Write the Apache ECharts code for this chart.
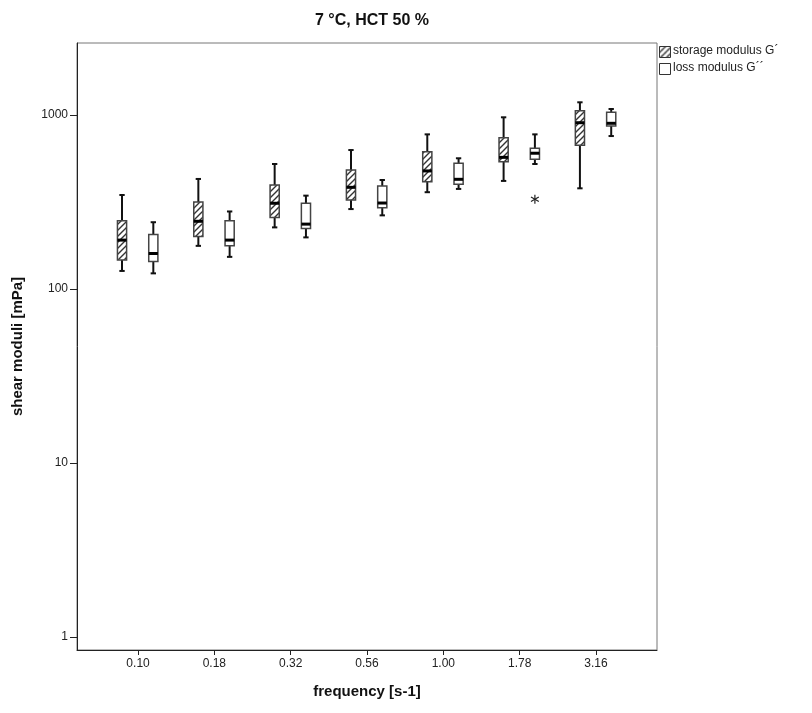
<!DOCTYPE html>
<html><head><meta charset="utf-8">
<script src="https://cdn.jsdelivr.net/npm/echarts@6/dist/echarts.min.js"></script>
<style>html,body{margin:0;padding:0;background:#fff}#c{width:812px;height:713px}</style>
</head><body><div id="c"></div>
<script>
var categories = ['0.10','0.18','0.32','0.56','1.00','1.78','3.16'];
// [min, Q1, median, Q3, max]
var storage = [
  [127,147,191,247,347],
  [177,200,245,316,429],
  [226,258,311,396,523],
  [288,325,384,483,629],
  [360,414,477,615,774],
  [418,539,571,740,970],
  [379,670,903,1058,1183]
];
var loss = [
  [123,144,160,206,242],
  [153,177,191,247,279],
  [198,223,236,311,344],
  [265,293,312,391,423],
  [376,400,427,528,564],
  [523,556,603,644,774],
  [757,865,896,1036,1083]
];
var lossOutliers = [[5, 328]];
var yTicks = [1, 10, 100, 1000];

function hatch() {
  var c = document.createElement('canvas');
  c.width = 6; c.height = 6;
  var g = c.getContext('2d');
  g.fillStyle = '#fff'; g.fillRect(0,0,6,6);
  g.strokeStyle = '#333'; g.lineWidth = 1.4;
  g.beginPath();
  g.moveTo(-1,7); g.lineTo(7,-1);
  g.moveTo(-4,4); g.lineTo(4,-4);
  g.moveTo(2,10); g.lineTo(10,2);
  g.stroke();
  return c;
}
var hatchFill = {image: hatch(), repeat: 'repeat'};

function boxRender(offset, fill) {
  return function (params, api) {
    var x = api.value(0) + offset;
    var pMin = api.coord([x, api.value(1)]);
    var pQ1 = api.coord([x, api.value(2)]);
    var pMed = api.coord([x, api.value(3)]);
    var pQ3 = api.coord([x, api.value(4)]);
    var pMax = api.coord([x, api.value(5)]);
    var unit = api.size([1, 0])[0];
    var hw = unit * 0.06, cw = unit * 0.035, cx = pMin[0];
    return {
      type: 'group',
      children: [
        {type: 'line', shape: {x1: cx, y1: pMax[1], x2: cx, y2: pMin[1]}, style: {stroke: '#111', lineWidth: 2}},
        {type: 'line', shape: {x1: cx - cw, y1: pMax[1], x2: cx + cw, y2: pMax[1]}, style: {stroke: '#111', lineWidth: 2}},
        {type: 'line', shape: {x1: cx - cw, y1: pMin[1], x2: cx + cw, y2: pMin[1]}, style: {stroke: '#111', lineWidth: 2}},
        {type: 'rect', shape: {x: cx - hw, y: pQ3[1], width: hw * 2, height: pQ1[1] - pQ3[1]},
          style: {fill: fill, stroke: '#444', lineWidth: 1.5}},
        {type: 'line', shape: {x1: cx - hw, y1: pMed[1], x2: cx + hw, y2: pMed[1]}, style: {stroke: '#000', lineWidth: 3}}
      ]
    };
  };
}
function starRender(offset) {
  return function (params, api) {
    var p = api.coord([api.value(0) + offset, api.value(1)]);
    var r = 4.5, ch = [];
    for (var i = 0; i < 3; i++) {
      var a = Math.PI / 2 + i * Math.PI / 3;
      ch.push({type: 'line', shape: {x1: p[0] - r * Math.cos(a), y1: p[1] - r * Math.sin(a), x2: p[0] + r * Math.cos(a), y2: p[1] + r * Math.sin(a)}, style: {stroke: '#222', lineWidth: 1.2}});
    }
    return {type: 'group', children: ch};
  };
}
function build(arr) { return arr.map(function (d, i) { return [i].concat(d); }); }

var chart = echarts.init(document.getElementById('c'));
var font = 'Liberation Sans, Arial, sans-serif';
chart.setOption({
  backgroundColor: '#fff',
  animation: false,
  title: {text: '7 °C, HCT 50 %', left: 367, top: 8, textAlign: 'center',
    textStyle: {fontFamily: font, fontSize: 16, fontWeight: 'bold', color: '#111'}},
  grid: {left: 77, right: 155, top: 43, bottom: 63, show: true, borderColor: '#777', borderWidth: 1, backgroundColor: '#fff'},
  xAxis: {
    type: 'value', min: -0.8, max: 6.8,
    name: 'frequency [s-1]', nameLocation: 'middle', nameGap: 34,
    nameTextStyle: {fontFamily: font, fontSize: 15, fontWeight: 'bold', color: '#111'},
    axisLine: {show: true, onZero: false, lineStyle: {color: '#222', width: 1}},
    axisTick: {show: true, length: 5, customValues: [0,1,2,3,4,5,6], lineStyle: {color: '#222'}},
    axisLabel: {customValues: [0,1,2,3,4,5,6], fontFamily: font, fontSize: 12, color: '#222', margin: 8,
      formatter: function (v) { return categories[Math.round(v)]; }},
    splitLine: {show: false}
  },
  yAxis: {
    type: 'log', logBase: 10, min: 0.842, max: 2593,
    name: 'shear moduli [mPa]', nameLocation: 'middle', nameGap: 52,
    nameTextStyle: {fontFamily: font, fontSize: 15, fontWeight: 'bold', color: '#111'},
    axisLine: {show: true, onZero: false, lineStyle: {color: '#222', width: 1}},
    axisTick: {show: true, length: 7, customValues: yTicks, lineStyle: {color: '#222'}},
    axisLabel: {customValues: yTicks, fontFamily: font, fontSize: 12, color: '#222', margin: 9,
      formatter: function (v) { return String(Math.round(v)); }},
    splitLine: {show: false}
  },
  graphic: [
    {type: 'rect', left: 659, top: 46, shape: {width: 11, height: 11}, style: {fill: hatchFill, stroke: '#333', lineWidth: 1}},
    {type: 'text', left: 673, top: 45, style: {text: 'storage modulus G´', font: '12px ' + font, fill: '#222'}},
    {type: 'rect', left: 659, top: 63, shape: {width: 11, height: 11}, style: {fill: '#fff', stroke: '#333', lineWidth: 1}},
    {type: 'text', left: 673, top: 62, style: {text: 'loss modulus G´´', font: '12px ' + font, fill: '#222'}}
  ],
  series: [
    {type: 'custom', name: 'storage modulus G´', renderItem: boxRender(-0.21, hatchFill), data: build(storage), encode: {x: 0, y: [1,2,3,4,5]}},
    {type: 'custom', name: 'loss modulus G´´', renderItem: boxRender(0.2, '#fff'), data: build(loss), encode: {x: 0, y: [1,2,3,4,5]}},
    {type: 'custom', name: 'outliers', renderItem: starRender(0.2), data: lossOutliers, encode: {x: 0, y: 1}}
  ]
});
</script></body></html>
